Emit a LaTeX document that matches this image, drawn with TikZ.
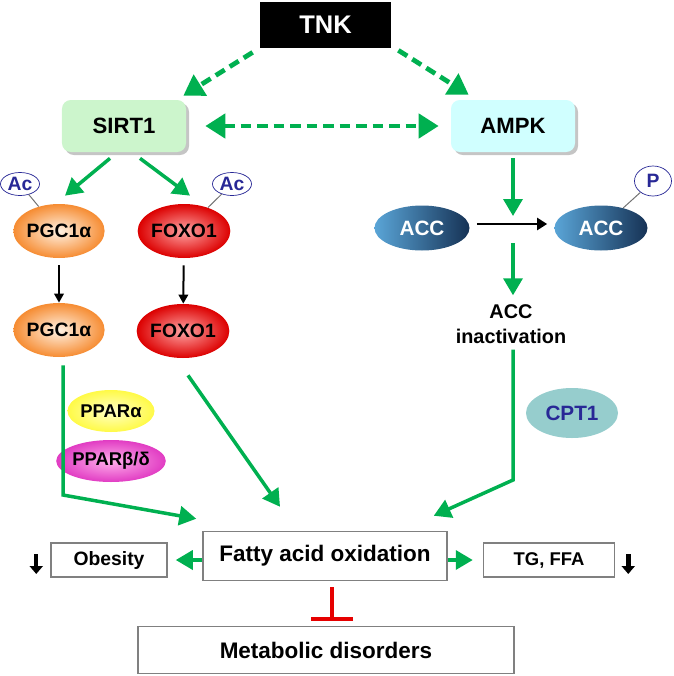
\documentclass[tikz,border=0pt]{standalone}
\usepackage{fontspec}
\setmainfont{Liberation Sans}
\usepackage{tikz}
\usetikzlibrary{shapes.geometric, arrows.meta, positioning, calc, shadows}
\definecolor{cGreen}{RGB}{0,176,80}
\definecolor{cSirt}{RGB}{204,245,204}
\definecolor{cAmpk}{RGB}{208,255,255}
\definecolor{cFrame}{RGB}{128,128,128}
\definecolor{cNavy}{RGB}{40,40,150}
\definecolor{cCpt}{RGB}{150,205,205}
\definecolor{cAccL}{RGB}{90,165,215}
\definecolor{cAccD}{RGB}{22,50,85}
\definecolor{cRed}{RGB}{230,0,0}
\tikzset{
	tnkbox/.style={rectangle, fill=black, text=white, minimum width=26.2mm, minimum height=9.2mm, font=\bfseries\fontsize{14.5}{16}\selectfont},
	hub/.style={rectangle, rounded corners=5pt, minimum width=24.8mm, minimum height=10.4mm, font=\bfseries\fontsize{12.6}{14}\selectfont, drop shadow={shadow xshift=0.6mm, shadow yshift=-0.6mm, fill=black!45}},
	prot/.style={ellipse, minimum width=17.6mm, minimum height=10.8mm, inner sep=0pt, font=\bfseries\fontsize{11}{13}\selectfont},
	pgcnode/.style={prot, inner color={rgb,255:red,255;green,242;blue,228}, outer color={rgb,255:red,246;green,140;blue,50}},
	foxnode/.style={prot, minimum width=18.2mm, inner color={rgb,255:red,255;green,165;blue,165}, outer color={rgb,255:red,220;green,0;blue,0}},
	pparnode/.style={prot, minimum width=17.4mm, minimum height=8.4mm, font=\bfseries\fontsize{10.5}{12}\selectfont},
	accnode/.style={ellipse, minimum width=19mm, minimum height=9mm, inner sep=0pt, text=white, left color=cAccL, right color=cAccD, font=\bfseries\fontsize{11.8}{13}\selectfont},
	tagc/.style={ellipse, draw=cNavy, fill=white, text=cNavy, minimum width=7.8mm, minimum height=4.6mm, inner sep=0pt, font=\bfseries\fontsize{11}{12}\selectfont},
	outbox/.style={rectangle, draw=cFrame, line width=0.3mm, fill=white, font=\bfseries\fontsize{11}{13}\selectfont},
	% connectors
	dasharrow/.style={cGreen, line width=0.95mm, dash pattern=on 2.1mm off 1.2mm, -{Triangle[length=4mm, width=4.8mm]}},
	gflow/.style={cGreen, line width=0.7mm, -{Triangle[length=3.4mm, width=3.8mm]}},
	kflow/.style={black, line width=0.4mm, -{Triangle[length=1.8mm, width=1.9mm]}},
	tagline/.style={black!55, line width=0.2mm},
	downmark/.style={black, line width=0.9mm, -{Triangle[length=1.6mm, width=2.6mm]}},
}
\begin{document}
\begin{tikzpicture}[x=0.2mm, y=-0.2mm]
	\useasboundingbox (0,0) rectangle (674,676);
	% top
	\node[tnkbox] (tnk) at (325.5,25) {TNK};
	\node[hub, fill=cSirt] (sirt) at (124,126) {SIRT1};
	\node[hub, fill=cAmpk] (ampk) at (513,126) {AMPK};
	\draw[dasharrow] ($(tnk.south west)+(-7,4)$) -- ($(sirt.north east)+(-3,-4)$);
	\draw[dasharrow] ($(tnk.south east)+(7,2)$) -- ($(ampk.north west)+(18,-5)$);
	\draw[dasharrow, {Triangle[length=4mm, width=4.8mm]}-{Triangle[length=4mm, width=4.8mm]}] ($(sirt.east)+(19,0)$) -- ($(ampk.west)+(-12,0)$);
	% SIRT1 branch
	\node[pgcnode] (pgcA) at (59,231) {PGC1α};
	\node[foxnode] (foxA) at (184,231) {FOXO1};
	\node[pgcnode] (pgcB) at (59,330) {PGC1α};
	\node[foxnode] (foxB) at (183,331) {FOXO1};
	\node[tagc] (acL) at (20,184) {Ac};
	\node[tagc] (acR) at (232,184) {Ac};
	\draw[gflow] ($(sirt.south)+(-14,6)$) -- ($(pgcA.north)+(6,-8)$);
	\draw[gflow] ($(sirt.south)+(16,6)$) -- ($(foxA.north)+(6,-8)$);
	\foreach \a/\b in {pgcA/pgcB, foxA/foxB}
		\draw[kflow, shorten <=1.4mm] (\a) -- (\b);
	\node[pparnode, inner color={rgb,255:red,255;green,255;blue,200}, outer color={rgb,255:red,255;green,250;blue,70}] (ppara) at (111,411) {PPARα};
	\node[pparnode, minimum width=17.8mm, inner color={rgb,255:red,255;green,175;blue,235}, outer color={rgb,255:red,225;green,60;blue,195}] (pparb) at (111,461) {PPARβ/δ};
	% AMPK branch
	\node[accnode] (accL) at (422,228) {ACC};
	\node[accnode, minimum width=18.6mm] (accR) at (601,228) {ACC};
	\node[tagc, minimum width=7.4mm, minimum height=6mm] (pTag) at (653,181) {P};
	\coordinate (fork) at (513,229);
	\draw[kflow, line width=0.45mm, -{Triangle[length=2mm, width=2.4mm]}, shorten <=1.4mm, shorten >=1.4mm] (accL.east |- 0,224) -- (accR.west |- 0,224);
	\draw[gflow, shorten <=1.2mm] (ampk.south) -- ($(fork)+(0,-13)$);
	\node[font=\bfseries\fontsize{11.3}{14.2}\selectfont, align=center] (inact) at (511,324) {ACC\\inactivation};
	\draw[gflow, shorten >=0.6mm] ($(fork)+(0,14)$) -- (inact.north -| fork);
	\node[ellipse, fill=cCpt, text=cNavy, minimum width=18.4mm, minimum height=10mm, inner sep=0pt, font=\bfseries\fontsize{11.8}{13}\selectfont] (cpt) at (572,413) {CPT1};
	\foreach \t/\e in {acL/pgcA, acR/foxA, pTag/accR}
		\draw[tagline] (\t) -- (\e);
	% bottom
	\node[outbox, minimum width=48.8mm, minimum height=9.8mm, font=\bfseries\fontsize{12.8}{14}\selectfont] (fat) at (325,556) {Fatty acid oxidation};
	\node[outbox, minimum width=23.2mm, minimum height=6.8mm] (obes) at (109,560) {Obesity};
	\node[outbox, minimum width=26.2mm, minimum height=6.8mm, font=\bfseries\fontsize{10.5}{12}\selectfont] (tg) at (549,560) {TG, FFA};
	\node[outbox, minimum width=75.2mm, minimum height=9.4mm, font=\bfseries\fontsize{12.8}{14}\selectfont] (met) at (326,650) {Metabolic disorders};
	\coordinate (bendL) at (63,495);
	\coordinate (bendR) at (513,480);
	\draw[gflow] ($(pgcB.south)+(4,8)$) -- (bendL) -- ($(fat.north west)+(-6,-12)$);
	\draw[gflow] ($(foxB.south)+(5,17)$) -- ($(fat.north)+(-45,-24)$);
	\draw[gflow] (inact.south -| bendR) -- (bendR) -- ($(fat.north east)+(-14,-15)$);
	\draw[gflow, shorten >=1.6mm] (obes.east -| fat.west) -- (obes.east);
	\draw[gflow, shorten >=2mm] (tg.west -| fat.east) -- (tg.west);
	\draw[cRed, line width=0.7mm, -{Bar[width=8.4mm, line width=0.8mm]}, shorten <=1.2mm, shorten >=1mm] ($(fat.south)+(7,0)$) -- ($(met.north)+(6,0)$);
	\draw[downmark] ($(obes.west)+(-14,-6)$) -- ($(obes.west)+(-14,14)$);
	\draw[downmark] ($(tg.east)+(13,-6)$) -- ($(tg.east)+(13,14)$);
\end{tikzpicture}
\end{document}
